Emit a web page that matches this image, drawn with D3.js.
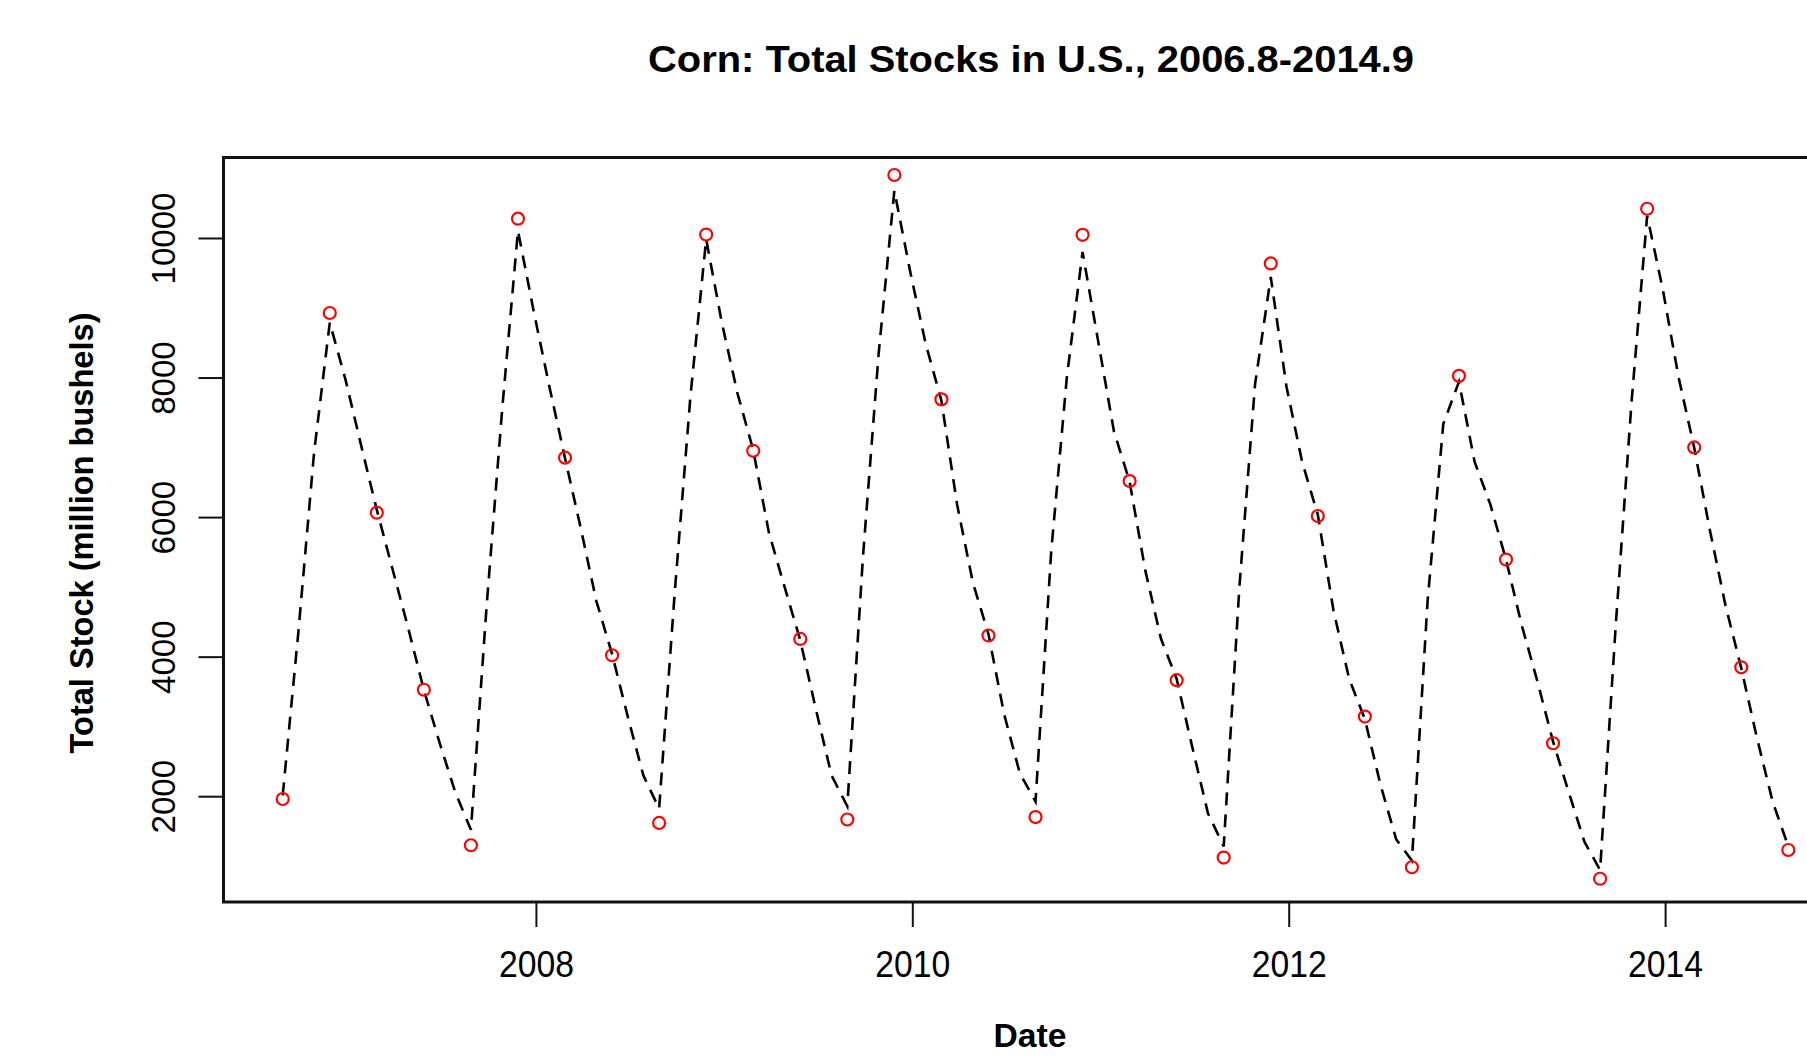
<!DOCTYPE html>
<html>
<head>
<meta charset="utf-8">
<script src="https://cdn.jsdelivr.net/npm/d3@7"></script>
<style>
  html, body { margin: 0; padding: 0; background: #fff; overflow: hidden; }
  text { font-family: "Liberation Sans", Arial, sans-serif; fill: #000; }
</style>
</head>
<body>
<svg id="chart" width="1807" height="1057"></svg>
<script>
// monthly series (dashed line), Sep 2006 .. Sep 2014, million bushels
const lineStock = [
  2020, 4364, 6933, 8793, 7981, 7035, 6110, 5263, 4418, 3530,
  2775, 2065, 1525, 4729, 7569, 10111, 8961, 7880, 6852, 5852,
  4803, 4046, 3147, 2302, 1829, 4939, 7745, 9989, 8793, 7778,
  6967, 5784, 5006, 4242, 3249, 2302, 1863, 5446, 8353, 10686,
  9536, 8488, 7677, 6189, 5074, 4330, 3181, 2336, 1930, 5513,
  8015, 9807, 8522, 7237, 6514, 5243, 4263, 3688, 2707, 1760,
  1288, 5006, 7914, 9448, 7880, 6798, 6041, 4668, 3688, 3113,
  2167, 1389, 1085, 4804, 7339, 7947, 6798, 6189, 5398, 4460,
  3654, 2790, 2065, 1355, 950, 4466, 7643, 10327, 9266, 8015,
  7001, 5818, 4736, 3843, 2843, 1930, 1288
];

// quarterly reports (red circles): Sep, Dec, Mar, Jun
const quarterStock = [
  1967, 8932, 6070, 3533, 1304, 10284, 6859, 4027, 1624, 10056,
  6957, 4261, 1673, 10910, 7694, 4310, 1708, 10053, 6523, 3670,
  1128, 9642, 6023, 3149, 989, 8031, 5399, 2766, 824, 10426,
  7006, 3854, 1236
];

const firstDate = 2006.652;
const monthsPerQuarter = 3;

const xTicks = [2008, 2010, 2012, 2014];
const yTicks = [2000, 4000, 6000, 8000, 10000];

const titleText = "Corn: Total Stocks in U.S., 2006.8-2014.9";
const xTitle = "Date";
const yTitle = "Total Stock (million bushels)";

const svg = d3.select("#chart");

// plot region
const plotLeft = 223.5, plotTop = 157.5, plotBottom = 902, plotRight = 1853;

const xScale = d3.scaleLinear().domain([2006.34, 2015]).range([224, 1853.8]);
const yScale = d3.scaleLinear().domain([491, 11162]).range([902, 157.4]);

const lineData = lineStock.map((v, i) => ({ t: firstDate + i / 12, v: v }));
const pointData = quarterStock.map((v, i) => ({ t: firstDate + (i * monthsPerQuarter) / 12, v: v }));

// dashed series line
const line = d3.line().x(d => xScale(d.t)).y(d => yScale(d.v));

svg.append("path")
  .datum(lineData)
  .attr("d", line)
  .attr("fill", "none")
  .attr("stroke", "#000")
  .attr("stroke-width", 2.6)
  .attr("stroke-dasharray", "13,9");

// hollow red circles
svg.selectAll("circle.pt")
  .data(pointData)
  .enter()
  .append("circle")
  .attr("class", "pt")
  .attr("cx", d => xScale(d.t))
  .attr("cy", d => yScale(d.v))
  .attr("r", 6)
  .attr("fill", "none")
  .attr("stroke", "#ff0000")
  .attr("stroke-width", 2.2);

// frame
svg.append("rect")
  .attr("x", plotLeft)
  .attr("y", plotTop)
  .attr("width", plotRight - plotLeft)
  .attr("height", plotBottom - plotTop)
  .attr("fill", "none")
  .attr("stroke", "#111")
  .attr("stroke-width", 3);

// x ticks + labels
svg.selectAll("line.xt")
  .data(xTicks)
  .enter()
  .append("line")
  .attr("class", "xt")
  .attr("x1", d => xScale(d))
  .attr("x2", d => xScale(d))
  .attr("y1", plotBottom)
  .attr("y2", plotBottom + 25)
  .attr("stroke", "#111")
  .attr("stroke-width", 2);

svg.selectAll("text.xl")
  .data(xTicks)
  .enter()
  .append("text")
  .attr("class", "xl")
  .attr("x", d => xScale(d))
  .attr("y", 976.5)
  .attr("text-anchor", "middle")
  .attr("font-size", 37)
  .attr("textLength", 75)
  .attr("lengthAdjust", "spacingAndGlyphs")
  .text(d => d);

// y ticks + rotated labels
svg.selectAll("line.yt")
  .data(yTicks)
  .enter()
  .append("line")
  .attr("class", "yt")
  .attr("x1", plotLeft)
  .attr("x2", plotLeft - 25)
  .attr("y1", d => yScale(d))
  .attr("y2", d => yScale(d))
  .attr("stroke", "#111")
  .attr("stroke-width", 2);

svg.selectAll("text.yl")
  .data(yTicks)
  .enter()
  .append("text")
  .attr("class", "yl")
  .attr("transform", d => `translate(175,${yScale(d)}) rotate(-90)`)
  .attr("text-anchor", "middle")
  .attr("font-size", 32.5)
  .attr("textLength", d => String(d).length * 18.4)
  .attr("lengthAdjust", "spacingAndGlyphs")
  .text(d => d);

// titles
svg.append("text")
  .attr("x", 1031)
  .attr("y", 71.7)
  .attr("text-anchor", "middle")
  .attr("font-size", 37)
  .attr("font-weight", "bold")
  .attr("textLength", 766)
  .attr("lengthAdjust", "spacingAndGlyphs")
  .text(titleText);

// x title sits at the very bottom edge, kept just inside the page
svg.append("text")
  .attr("x", 1030)
  .attr("y", 1047)
  .attr("text-anchor", "middle")
  .attr("font-size", 33)
  .attr("font-weight", "bold")
  .attr("textLength", 73)
  .attr("lengthAdjust", "spacingAndGlyphs")
  .text(xTitle);

svg.append("text")
  .attr("transform", "translate(93.3,533) rotate(-90)")
  .attr("text-anchor", "middle")
  .attr("font-size", 32.5)
  .attr("font-weight", "bold")
  .attr("textLength", 441)
  .attr("lengthAdjust", "spacingAndGlyphs")
  .text(yTitle);
</script>
</body>
</html>
